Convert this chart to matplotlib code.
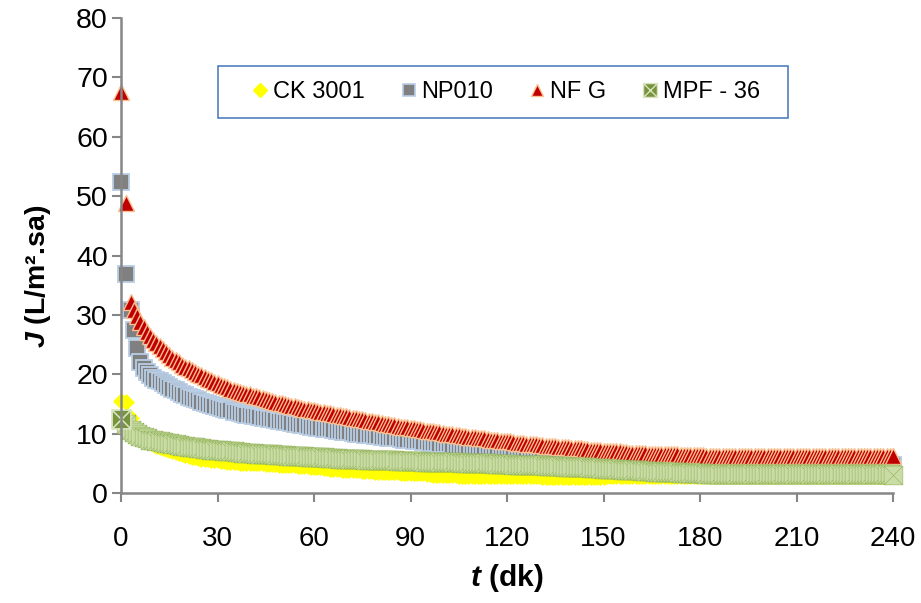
import numpy as np
import matplotlib
matplotlib.use("Agg")
import matplotlib.pyplot as plt
from matplotlib.path import Path
from matplotlib.lines import Line2D
from matplotlib.patches import Rectangle

# sampling times (dk): first readings, then one per minute from 10 to 240
t_start = [0, 1.5, 3, 4, 5, 6, 7, 8, 9]
t = np.concatenate([t_start, np.arange(10, 241)])

# flux J (L/m2.sa) per membrane
ck3001 = [15.5, 15.4, 12.6, 11.3, 10.5, 9.9, 9.4, 9.0, 8.6,
          8.3, 8.0, 7.8, 7.6, 7.4, 7.2, 7.0, 6.9, 6.7, 6.5,
          6.4, 6.2, 6.1, 6.0, 5.9, 5.8, 5.7, 5.7, 5.6, 5.5,
          5.5, 5.4, 5.4, 5.3, 5.3, 5.2, 5.2, 5.1, 5.1, 5.1,
          5.1, 5.0, 5.0, 5.0, 5.0, 4.9, 4.9, 4.9, 4.9, 4.8,
          4.8, 4.8, 4.8, 4.7, 4.7, 4.6, 4.6, 4.5, 4.5, 4.4,
          4.4, 4.3, 4.3, 4.2, 4.2, 4.1, 4.1, 4.0, 4.0, 3.9,
          3.9, 3.8, 3.8, 3.8, 3.8, 3.7, 3.7, 3.7, 3.7, 3.6,
          3.6, 3.6, 3.6, 3.5, 3.5, 3.5, 3.5, 3.4, 3.4, 3.4,
          3.4, 3.3, 3.3, 3.3, 3.3, 3.2, 3.2, 3.1, 3.1, 3.0,
          3.0, 3.0, 3.0, 3.0, 3.0, 2.9, 2.9, 2.9, 2.9, 2.9,
          2.9, 2.8, 2.8, 2.8, 2.8, 2.8, 2.8, 2.8, 2.8, 2.8,
          2.8, 2.8, 2.8, 2.8, 2.8, 2.8, 2.8, 2.8, 2.8, 2.8,
          2.8, 2.7, 2.7, 2.7, 2.7, 2.7, 2.7, 2.7, 2.7, 2.7,
          2.7, 2.7, 2.7, 2.7, 2.7, 2.7, 2.7, 2.7, 2.7, 2.7,
          2.7, 2.8, 2.8, 2.8, 2.8, 2.8, 2.8, 2.8, 2.8, 2.8,
          2.8, 2.8, 2.8, 2.8, 2.8, 2.8, 2.8, 2.8, 2.8, 2.8,
          2.8, 2.9, 2.9, 2.9, 2.9, 2.9, 2.9, 2.9, 2.9, 2.9,
          2.9, 2.9, 2.9, 2.9, 2.9, 2.9, 2.9, 2.9, 2.9, 2.9,
          2.9, 2.9, 2.9, 2.9, 2.9, 2.9, 2.9, 2.9, 2.9, 2.9,
          2.9, 2.9, 2.9, 2.9, 2.9, 2.9, 2.9, 2.9, 2.9, 2.9,
          2.9, 2.9, 2.9, 2.9, 2.9, 2.9, 2.9, 2.9, 2.9, 2.9,
          2.9, 2.9, 2.9, 2.9, 2.9, 2.9, 2.9, 2.9, 2.9, 2.9,
          2.9, 2.9, 2.9, 2.9, 2.9, 2.9, 2.9, 2.9, 2.9, 2.9,
          2.9]

np010 = [52.3, 36.9, 30.8, 27.5, 24.5, 22.0, 21.0, 20.3, 19.8,
         19.4, 19.1, 18.9, 18.5, 18.2, 17.9, 17.6, 17.3, 17.0, 16.7,
         16.5, 16.2, 16.0, 15.8, 15.6, 15.4, 15.2, 15.0, 14.8, 14.6,
         14.5, 14.3, 14.2, 14.0, 13.9, 13.7, 13.6, 13.4, 13.3, 13.2,
         13.1, 13.0, 12.9, 12.8, 12.7, 12.6, 12.5, 12.4, 12.3, 12.2,
         12.1, 12.0, 11.9, 11.8, 11.7, 11.6, 11.5, 11.4, 11.3, 11.2,
         11.1, 11.0, 10.9, 10.8, 10.8, 10.7, 10.6, 10.5, 10.4, 10.3,
         10.3, 10.2, 10.1, 10.0, 10.0, 9.9, 9.8, 9.7, 9.7, 9.6,
         9.6, 9.5, 9.4, 9.3, 9.3, 9.2, 9.2, 9.1, 9.0, 8.9,
         8.9, 8.8, 8.8, 8.7, 8.6, 8.6, 8.5, 8.4, 8.4, 8.3,
         8.3, 8.2, 8.2, 8.1, 8.0, 8.0, 7.9, 7.8, 7.8, 7.7,
         7.7, 7.6, 7.6, 7.5, 7.5, 7.4, 7.4, 7.3, 7.2, 7.2,
         7.1, 7.0, 7.0, 6.9, 6.9, 6.8, 6.7, 6.7, 6.6, 6.5,
         6.4, 6.4, 6.3, 6.3, 6.2, 6.2, 6.2, 6.1, 6.1, 6.0,
         6.0, 6.0, 6.0, 5.9, 5.9, 5.8, 5.8, 5.8, 5.8, 5.7,
         5.7, 5.6, 5.5, 5.5, 5.5, 5.4, 5.4, 5.3, 5.3, 5.2,
         5.2, 5.2, 5.2, 5.1, 5.1, 5.1, 5.1, 5.0, 5.0, 5.0,
         5.0, 5.0, 5.0, 4.9, 4.9, 4.9, 4.9, 4.9, 4.9, 4.9,
         4.9, 4.8, 4.8, 4.8, 4.8, 4.8, 4.8, 4.8, 4.8, 4.8,
         4.8, 4.8, 4.8, 4.8, 4.8, 4.8, 4.8, 4.8, 4.8, 4.8,
         4.8, 4.8, 4.8, 4.8, 4.8, 4.8, 4.8, 4.8, 4.8, 4.8,
         4.8, 4.8, 4.8, 4.8, 4.8, 4.8, 4.8, 4.8, 4.8, 4.8,
         4.8, 4.8, 4.8, 4.8, 4.8, 4.8, 4.8, 4.8, 4.8, 4.8,
         4.8, 4.8, 4.8, 4.8, 4.8, 4.8, 4.8, 4.8, 4.8, 4.8,
         4.8]

nfg = [67.5, 48.8, 32.2, 30.9, 29.8, 28.8, 28.0, 27.2, 26.5,
       25.8, 25.2, 24.7, 24.2, 23.7, 23.2, 22.8, 22.4, 22.0, 21.6,
       21.3, 21.0, 20.7, 20.4, 20.1, 19.8, 19.5, 19.2, 19.0, 18.7,
       18.5, 18.2, 18.0, 17.8, 17.6, 17.4, 17.2, 17.0, 16.9, 16.7,
       16.6, 16.4, 16.3, 16.1, 16.0, 15.8, 15.7, 15.5, 15.4, 15.2,
       15.1, 15.0, 14.9, 14.7, 14.6, 14.5, 14.4, 14.2, 14.1, 14.0,
       13.9, 13.8, 13.7, 13.6, 13.5, 13.4, 13.3, 13.2, 13.1, 13.0,
       12.9, 12.8, 12.7, 12.6, 12.5, 12.4, 12.3, 12.2, 12.1, 12.0,
       11.9, 11.8, 11.7, 11.6, 11.5, 11.4, 11.3, 11.2, 11.2, 11.1,
       11.0, 10.9, 10.8, 10.7, 10.6, 10.5, 10.4, 10.4, 10.3, 10.2,
       10.1, 10.0, 9.9, 9.9, 9.8, 9.7, 9.6, 9.6, 9.5, 9.5,
       9.4, 9.3, 9.2, 9.2, 9.1, 9.0, 9.0, 8.9, 8.8, 8.8,
       8.7, 8.7, 8.6, 8.5, 8.5, 8.4, 8.3, 8.3, 8.2, 8.2,
       8.1, 8.1, 8.0, 8.0, 7.9, 7.9, 7.8, 7.8, 7.7, 7.7,
       7.6, 7.6, 7.5, 7.5, 7.4, 7.4, 7.3, 7.3, 7.2, 7.2,
       7.1, 7.1, 7.0, 7.0, 7.0, 7.0, 6.9, 6.9, 6.8, 6.8,
       6.8, 6.8, 6.7, 6.7, 6.6, 6.6, 6.6, 6.6, 6.5, 6.5,
       6.5, 6.5, 6.5, 6.5, 6.4, 6.4, 6.4, 6.4, 6.4, 6.4,
       6.4, 6.4, 6.3, 6.3, 6.3, 6.3, 6.3, 6.3, 6.3, 6.3,
       6.3, 6.3, 6.3, 6.3, 6.3, 6.3, 6.3, 6.3, 6.3, 6.3,
       6.3, 6.3, 6.3, 6.3, 6.3, 6.3, 6.3, 6.3, 6.3, 6.3,
       6.3, 6.3, 6.3, 6.3, 6.3, 6.3, 6.3, 6.3, 6.3, 6.3,
       6.3, 6.3, 6.3, 6.3, 6.3, 6.3, 6.3, 6.3, 6.3, 6.3,
       6.3, 6.2, 6.2, 6.2, 6.2, 6.2, 6.2, 6.2, 6.2, 6.2,
       6.2]

mpf36 = [12.4, 11.6, 10.6, 10.2, 9.9, 9.6, 9.4, 9.2, 9.0,
         8.9, 8.8, 8.7, 8.6, 8.5, 8.4, 8.3, 8.2, 8.1, 8.0,
         7.9, 7.8, 7.7, 7.7, 7.6, 7.5, 7.4, 7.4, 7.3, 7.3,
         7.2, 7.2, 7.1, 7.1, 7.0, 7.0, 6.9, 6.9, 6.8, 6.8,
         6.7, 6.7, 6.6, 6.6, 6.6, 6.5, 6.5, 6.5, 6.4, 6.4,
         6.4, 6.4, 6.3, 6.3, 6.2, 6.2, 6.2, 6.2, 6.1, 6.1,
         6.1, 6.0, 6.0, 6.0, 5.9, 5.9, 5.9, 5.9, 5.8, 5.8,
         5.8, 5.8, 5.7, 5.7, 5.7, 5.7, 5.6, 5.6, 5.6, 5.6,
         5.5, 5.5, 5.5, 5.5, 5.5, 5.5, 5.4, 5.4, 5.4, 5.4,
         5.4, 5.4, 5.4, 5.4, 5.3, 5.3, 5.3, 5.3, 5.3, 5.3,
         5.3, 5.3, 5.2, 5.2, 5.2, 5.2, 5.1, 5.1, 5.1, 5.1,
         5.1, 5.1, 5.0, 5.0, 5.0, 5.0, 4.9, 4.9, 4.9, 4.9,
         4.9, 4.9, 4.8, 4.8, 4.8, 4.8, 4.7, 4.7, 4.7, 4.7,
         4.7, 4.7, 4.6, 4.6, 4.5, 4.5, 4.5, 4.5, 4.4, 4.4,
         4.4, 4.4, 4.3, 4.3, 4.3, 4.3, 4.2, 4.2, 4.2, 4.2,
         4.1, 4.1, 4.0, 4.0, 4.0, 4.0, 3.9, 3.9, 3.9, 3.9,
         3.8, 3.8, 3.7, 3.7, 3.7, 3.7, 3.6, 3.6, 3.6, 3.6,
         3.5, 3.5, 3.5, 3.5, 3.4, 3.4, 3.4, 3.4, 3.3, 3.3,
         3.3, 3.3, 3.2, 3.2, 3.2, 3.2, 3.2, 3.2, 3.2, 3.2,
         3.2, 3.2, 3.2, 3.2, 3.2, 3.2, 3.2, 3.2, 3.2, 3.2,
         3.2, 3.2, 3.2, 3.2, 3.2, 3.2, 3.2, 3.2, 3.2, 3.2,
         3.2, 3.2, 3.2, 3.2, 3.2, 3.2, 3.2, 3.2, 3.2, 3.2,
         3.2, 3.2, 3.2, 3.2, 3.2, 3.2, 3.2, 3.2, 3.2, 3.2,
         3.2, 3.2, 3.2, 3.2, 3.2, 3.2, 3.2, 3.2, 3.2, 3.2,
         3.0]

labels = ["CK 3001", "NP010", "NF G", "MPF - 36"]

plt.rcParams["font.family"] = ["Liberation Sans", "DejaVu Sans"]
plt.rcParams["mathtext.fontset"] = "custom"
plt.rcParams["mathtext.it"] = "Liberation Sans:italic:bold"
plt.rcParams["mathtext.rm"] = "Liberation Sans:bold"

axis_grey = "#868686"

# square with a cross through it, for the MPF - 36 series
xsq = Path([(-1, -1), (1, -1), (1, 1), (-1, 1), (-1, -1),
            (-1, -1), (1, 1), (-1, 1), (1, -1)],
           [Path.MOVETO, Path.LINETO, Path.LINETO, Path.LINETO, Path.CLOSEPOLY,
            Path.MOVETO, Path.LINETO, Path.MOVETO, Path.LINETO])

styles = [
    dict(marker="D", ms=8.5, mfc="#FFFF00", mec="#FFFF00", mew=0.5),
    dict(marker="s", ms=11, mfc="#808080", mec="#B9CDE5", mew=1.3),
    dict(marker="^", ms=11.5, mfc="#C00000", mec="#FAC090", mew=1.0),
    dict(marker=xsq, ms=13.5, mfc="#C9DCA5", mec="#93B35A", mew=0.4),
]

fig = plt.figure(figsize=(9.21, 6.03), dpi=100)
ax = fig.add_axes([121 / 921, 110 / 603, 772 / 921, 475 / 603])

for series, st in zip([ck3001, np010, nfg, mpf36], styles):
    ax.plot(t, series, ls="none", clip_on=False, **st)

# first MPF point drawn in full colour on top
ax.plot(t[0], mpf36[0], ls="none", marker=xsq, ms=13.5, mfc="#77933C",
        mec="#D7E4BD", mew=1.2, clip_on=False)

ax.set_xlim(0, 240)
ax.set_ylim(0, 80)
ax.set_xticks(np.arange(0, 241, 30))
ax.set_yticks(np.arange(0, 81, 10))

for side in ["top", "right"]:
    ax.spines[side].set_visible(False)
for side in ["left", "bottom"]:
    ax.spines[side].set_color(axis_grey)
    ax.spines[side].set_linewidth(1.8)

ax.tick_params(axis="both", direction="out", length=6.5, width=1.5,
               color=axis_grey, labelcolor="black")
ax.tick_params(axis="y", labelsize=20.5, pad=3)
ax.tick_params(axis="x", labelsize=20, pad=17)

ax.set_ylabel(r"$J$ (L/m².sa)", fontsize=20.5, fontweight="bold")
ax.yaxis.set_label_coords(-0.088, 0.455)
ax.set_xlabel(r"$t$ (dk)", fontsize=21.5, fontweight="bold")
ax.xaxis.set_label_coords(0.5, -0.145)

# legend box
ax.add_patch(Rectangle((0.1256, 0.789), 0.739, 0.11, transform=ax.transAxes,
                       facecolor="white", edgecolor="#4F81BD", lw=1.2,
                       zorder=5, clip_on=False))
handles = [
    Line2D([], [], ls="none", marker="D", ms=7, mfc="#FFFF00", mec="#FFFF00"),
    Line2D([], [], ls="none", marker="s", ms=8, mfc="#808080", mec="#B9CDE5", mew=1.2),
    Line2D([], [], ls="none", marker="^", ms=9, mfc="#C00000", mec="#FAC090", mew=1.0),
    Line2D([], [], ls="none", marker=xsq, ms=10, mfc="#77933C", mec="#D7E4BD", mew=1.0),
]
leg = ax.legend(handles, labels, loc="center", bbox_to_anchor=(0.4994, 0.844),
                ncol=4, frameon=False, fontsize=17, handlelength=0.6,
                handletextpad=0.25, columnspacing=1.55)
leg.set_zorder(6)

fig.savefig("out.png", dpi=100)
